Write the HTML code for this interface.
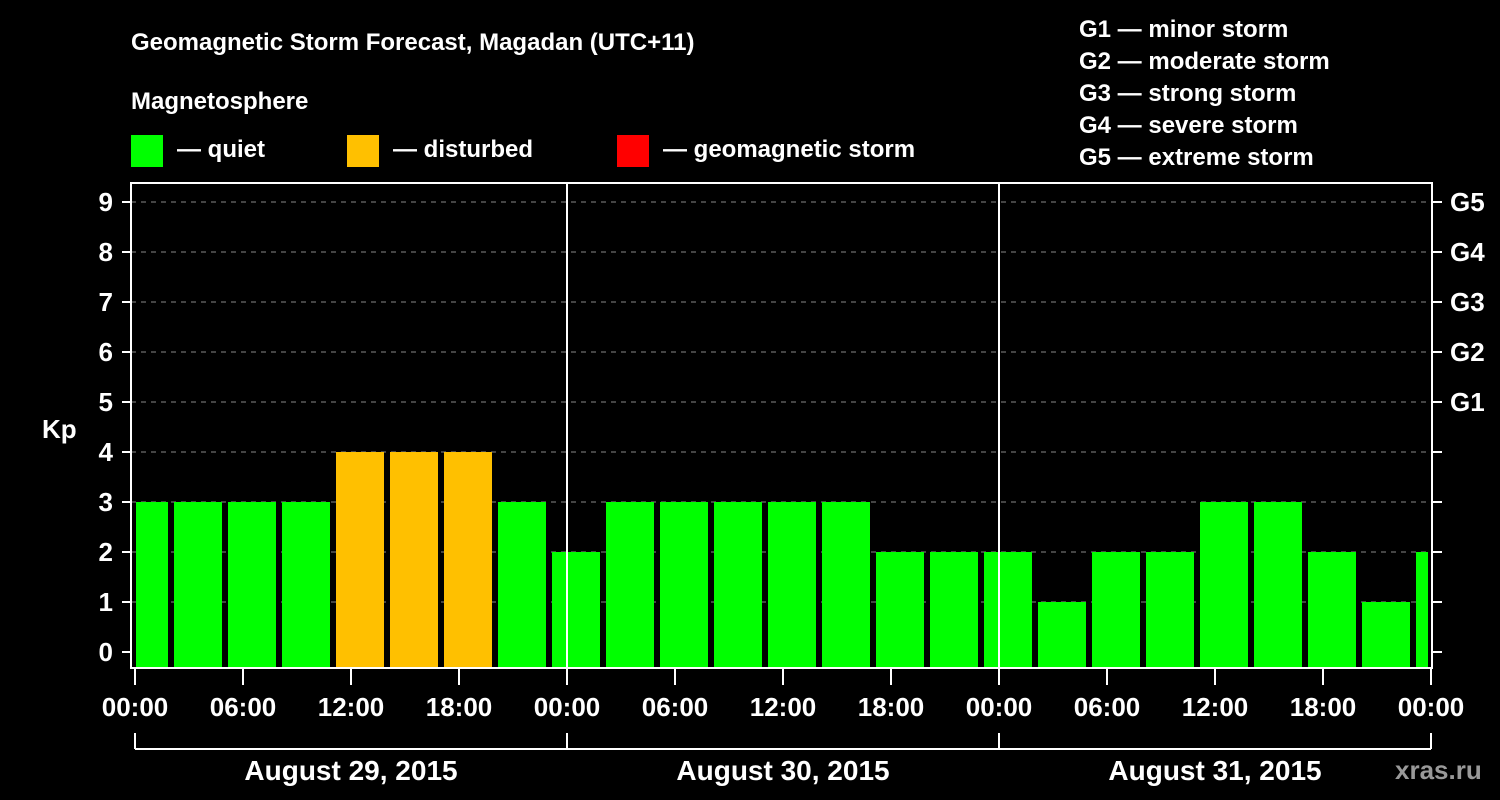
<!DOCTYPE html>
<html><head><meta charset="utf-8"><style>
html,body{margin:0;padding:0;background:#000;width:1500px;height:800px;overflow:hidden}
svg text{font-family:"Liberation Sans",Arial,sans-serif;font-weight:bold;fill:#fff}
</style></head><body>
<svg id="chart" width="1500" height="800" xmlns="http://www.w3.org/2000/svg">
<text x="131" y="50" font-size="24">Geomagnetic Storm Forecast, Magadan (UTC+11)</text>
<text x="131" y="109" font-size="24">Magnetosphere</text>
<g>
<rect x="131" y="135" width="32" height="32" fill="#00ff00"/>
<text x="177" y="157" font-size="24">— quiet</text>
<rect x="347" y="135" width="32" height="32" fill="#ffc000"/>
<text x="393" y="157" font-size="24">— disturbed</text>
<rect x="617" y="135" width="32" height="32" fill="#ff0000"/>
<text x="663" y="157" font-size="24">— geomagnetic storm</text>
</g>
<g font-size="24">
<text x="1079" y="37">G1 — minor storm</text>
<text x="1079" y="69">G2 — moderate storm</text>
<text x="1079" y="101">G3 — strong storm</text>
<text x="1079" y="133">G4 — severe storm</text>
<text x="1079" y="165">G5 — extreme storm</text>
</g>
<text x="42" y="438" font-size="26">Kp</text>
<g id="grid"></g>
<g id="bars"></g>
<g id="axes"></g>
<text x="1395" y="779" font-size="26" style="fill:#999">xras.ru</text>
</svg>
<script>
const kpValues=[3,3,3,3,4,4,4,3,2,3,3,3,3,3,2,2,2,1,2,2,3,3,2,1,2];
const yTicks=[0,1,2,3,4,5,6,7,8,9];
const gLabels=["G1","G2","G3","G4","G5"];
const gLevels=[5,6,7,8,9];
const timeLabels=["00:00","06:00","12:00","18:00","00:00","06:00","12:00","18:00","00:00","06:00","12:00","18:00","00:00"];
const dayLabels=["August 29, 2015","August 30, 2015","August 31, 2015"];
const NS="http://www.w3.org/2000/svg";
const L=131,R=1432,T=183,B=668;
const y=v=>652-50*v;
const xh=h=>135+h*18; // hours from start
function mk(p,t,a){const e=document.createElementNS(NS,t);for(const k in a)e.setAttribute(k,a[k]);p.appendChild(e);return e;}
const grid=document.getElementById('grid'),bars=document.getElementById('bars'),axes=document.getElementById('axes');
yTicks.forEach(v=>{
 if(v>0){const g=mk(grid,'line',{x1:L,x2:R,y1:y(v),y2:y(v),stroke:'#888','stroke-dasharray':'5,5','stroke-width':1});
 
 }
 const t=mk(axes,'line',{x1:122,x2:L,y1:y(v),y2:y(v),stroke:'#fff','stroke-width':2});
 
 
 const t2=mk(axes,'line',{x1:R,x2:1442,y1:y(v),y2:y(v),stroke:'#fff','stroke-width':2});
 
 
 const lb=mk(axes,'text',{x:113,y:y(v)+9,'font-size':26,'text-anchor':'end'});lb.textContent=v;
 
 
});
gLabels.forEach((g,i)=>{const lb=mk(axes,'text',{x:1450,y:y(gLevels[i])+9,'font-size':26});lb.textContent=g;
 
 });
kpValues.forEach((v,i)=>{
 let x0=xh(3*i)-15,x1=x0+48;x0=Math.max(x0,136);x1=Math.min(x1,1428);
 const r=mk(bars,'rect',{x:x0,y:y(v),width:x1-x0,height:B-y(v),fill:v>=5?'#ff0000':(v>=4?'#ffc000':'#00ff00')});
 
 
});
const fr=mk(axes,'rect',{x:L,y:T,width:R-L,height:B-T,fill:'none',stroke:'#fff','stroke-width':2});


[1,2].forEach(d=>{const l=mk(axes,'line',{x1:xh(24*d),x2:xh(24*d),y1:T,y2:B,stroke:'#fff','stroke-width':2});
 
 });
timeLabels.forEach((s,i)=>{const x=xh(6*i);
 const t=mk(axes,'line',{x1:x,x2:x,y1:B,y2:685,stroke:'#fff','stroke-width':2});
 
 
 const lb=mk(axes,'text',{x:x,y:716,'font-size':26,'text-anchor':'middle'});lb.textContent=s;
 
 });
const br=mk(axes,'line',{x1:xh(0),x2:xh(72),y1:749,y2:749,stroke:'#fff','stroke-width':2});


[0,1,2,3].forEach(d=>{const l=mk(axes,'line',{x1:xh(24*d),x2:xh(24*d),y1:733,y2:749,stroke:'#fff','stroke-width':2});
 
 });
dayLabels.forEach((s,d)=>{const lb=mk(axes,'text',{x:xh(24*d+12),y:780,'font-size':28,'text-anchor':'middle'});lb.textContent=s;
 
 });
</script>
</body></html>
